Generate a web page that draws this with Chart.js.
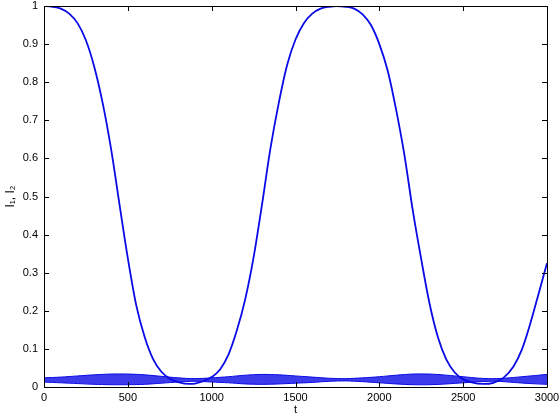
<!DOCTYPE html>
<html>
<head>
  <script src="https://cdn.jsdelivr.net/npm/chart.js"></script>
  <style>
    body { margin: 0; background: #fff; }
    #wrap { width: 560px; height: 420px; }
  </style>
</head>
<body>
  <div id="wrap"><canvas id="plot"></canvas></div>
  <script>
    // I1: big slow exchange curve
    const tMain = [0, 50, 100, 150, 200, 250, 300, 350, 400, 450, 500, 550, 600, 650, 700, 750, 800, 870,
      900, 950, 1000, 1050, 1100, 1150, 1200, 1250, 1300, 1350, 1400, 1450, 1500, 1550, 1600, 1650, 1700, 1745,
      1800, 1850, 1900, 1950, 2000, 2050, 2100, 2150, 2200, 2250, 2300, 2350, 2400, 2450, 2500, 2550, 2620,
      2680, 2740, 2800, 2850, 2900, 2950, 3000];
    const i1 = [1.000, 0.998, 0.993, 0.980, 0.955, 0.910, 0.840, 0.745, 0.625, 0.480, 0.338, 0.215, 0.132, 0.074, 0.040, 0.022, 0.013, 0.008,
      0.009, 0.015, 0.026, 0.046, 0.085, 0.148, 0.230, 0.340, 0.478, 0.625, 0.745, 0.845, 0.912, 0.955, 0.980, 0.993, 0.998, 1.000,
      0.998, 0.993, 0.978, 0.950, 0.900, 0.830, 0.728, 0.608, 0.462, 0.335, 0.218, 0.130, 0.072, 0.038, 0.020, 0.012, 0.008,
      0.011, 0.024, 0.054, 0.098, 0.166, 0.245, 0.325];

    // I2: fast oscillation, drawn as its upper/lower envelope
    const tBand = [0, 100, 200, 300, 400, 500, 600, 700, 800, 900, 1000, 1100, 1200, 1300, 1400, 1500,
      1600, 1700, 1800, 1900, 2000, 2100, 2200, 2300, 2400, 2500, 2600, 2700, 2800, 2900, 3000];
    const i2Upper = [0.024, 0.026, 0.029, 0.032, 0.034, 0.034, 0.032, 0.028, 0.024, 0.022, 0.024, 0.027, 0.031, 0.033, 0.032, 0.029,
      0.026, 0.023, 0.022, 0.024, 0.027, 0.031, 0.034, 0.034, 0.031, 0.027, 0.023, 0.022, 0.025, 0.029, 0.033];
    const i2Lower = [0.013, 0.011, 0.009, 0.007, 0.006, 0.006, 0.007, 0.010, 0.013, 0.015, 0.013, 0.011, 0.008, 0.007, 0.008, 0.010,
      0.012, 0.015, 0.016, 0.014, 0.011, 0.008, 0.006, 0.006, 0.008, 0.011, 0.014, 0.015, 0.012, 0.009, 0.007];

    const xTicks = [0, 500, 1000, 1500, 2000, 2500, 3000];
    const yTicks = [0, 0.1, 0.2, 0.3, 0.4, 0.5, 0.6, 0.7, 0.8, 0.9, 1];

    const blue = '#0a0ae6';
    const font = { family: 'Liberation Sans, Arial, sans-serif', size: 11 };

    const pts = (xs, ys) => xs.map((x, i) => ({ x: x, y: ys[i] }));

    // matlab style box with inward ticks
    const boxPlugin = {
      id: 'box',
      afterDatasetsDraw(chart) {
        const { ctx, chartArea: a, scales } = chart;
        ctx.save();
        ctx.strokeStyle = '#000';
        ctx.lineWidth = 1;
        ctx.beginPath();
        ctx.rect(Math.round(a.left) + 0.5, Math.round(a.top) + 0.5,
          Math.round(a.right - a.left), Math.round(a.bottom - a.top));
        const tl = 5;
        xTicks.forEach(v => {
          const x = Math.round(scales.x.getPixelForValue(v)) + 0.5;
          ctx.moveTo(x, a.bottom); ctx.lineTo(x, a.bottom - tl);
          ctx.moveTo(x, a.top); ctx.lineTo(x, a.top + tl);
        });
        yTicks.forEach(v => {
          const y = Math.round(scales.y.getPixelForValue(v)) + 0.5;
          ctx.moveTo(a.left, y); ctx.lineTo(a.left + tl, y);
          ctx.moveTo(a.right, y); ctx.lineTo(a.right - tl, y);
        });
        ctx.stroke();
        ctx.restore();
      }
    };

    new Chart(document.getElementById('plot'), {
      type: 'line',
      data: {
        datasets: [
          {
            data: pts(tBand, i2Upper),
            borderColor: blue, borderWidth: 1,
            pointRadius: 0, fill: false, tension: 0.3
          },
          {
            data: pts(tBand, i2Lower),
            borderColor: blue, borderWidth: 1,
            backgroundColor: 'rgba(10,10,230,0.8)',
            pointRadius: 0, fill: '-1', tension: 0.3
          },
          {
            data: pts(tMain, i1),
            borderColor: blue, borderWidth: 1.8,
            pointRadius: 0, fill: false,
            cubicInterpolationMode: 'monotone'
          }
        ]
      },
      options: {
        responsive: true,
        maintainAspectRatio: false,
        animation: false,
        layout: { padding: { top: 6, right: 13, left: 0, bottom: 0 } },
        plugins: { legend: { display: false }, tooltip: { enabled: false } },
        scales: {
          x: {
            type: 'linear', min: 0, max: 3000,
            afterBuildTicks: s => { s.ticks = xTicks.map(v => ({ value: v })); },
            // fixed box size, no extra room for end labels
            afterFit: s => { s.height = 33; s.paddingLeft = 0; s.paddingRight = 0; },
            grid: { display: false, drawTicks: false },
            border: { display: false },
            ticks: { color: '#000', font: font, padding: 4, maxRotation: 0, callback: v => String(v) },
            title: { display: true, text: 't', color: '#000', font: font, padding: { top: 0, bottom: 3 } }
          },
          y: {
            type: 'linear', min: 0, max: 1,
            afterBuildTicks: s => { s.ticks = yTicks.map(v => ({ value: v })); },
            afterFit: s => { s.width = 44; s.paddingTop = 0; s.paddingBottom = 0; },
            grid: { display: false, drawTicks: false },
            border: { display: false },
            ticks: { color: '#000', font: font, padding: 6, callback: v => String(+v.toFixed(1)) },
            title: { display: true, text: 'I\u2081, I\u2082', color: '#000',
              font: { family: font.family, size: 12 }, padding: { top: 3, bottom: 0 } }
          }
        }
      },
      plugins: [boxPlugin]
    });
  </script>
</body>
</html>
